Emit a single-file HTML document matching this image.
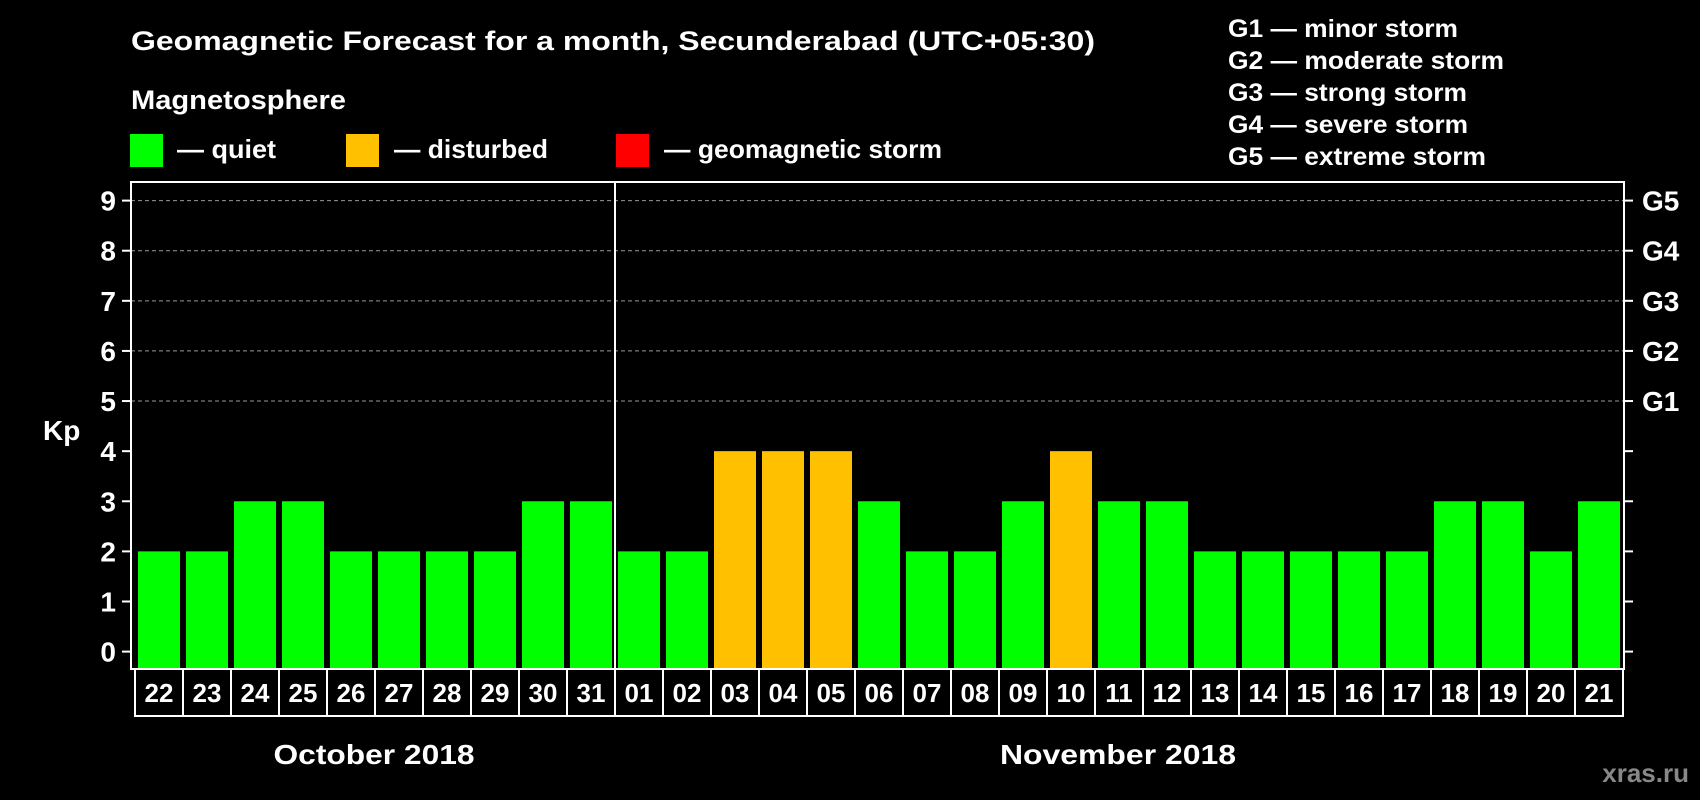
<!DOCTYPE html>
<html><head><meta charset="utf-8"><style>
html,body{margin:0;padding:0;background:#000;}
svg{display:block;font-family:"Liberation Sans",Arial,sans-serif;font-weight:bold;}
</style></head><body>
<svg id="chart" width="1700" height="800" viewBox="0 0 1700 800">
<rect x="0" y="0" width="1700" height="800" fill="#000"/>
<text x="131" y="50" fill="#fff" font-size="27" textLength="964" lengthAdjust="spacingAndGlyphs">Geomagnetic Forecast for a month, Secunderabad (UTC+05:30)</text>
<text x="131" y="109" fill="#fff" font-size="27" textLength="215" lengthAdjust="spacingAndGlyphs">Magnetosphere</text>
<g>
<rect x="130" y="134" width="33" height="33" fill="#00ff00"/>
<text x="177" y="158" fill="#fff" font-size="26" textLength="99" lengthAdjust="spacingAndGlyphs">— quiet</text>
<rect x="346" y="134" width="33" height="33" fill="#ffc000"/>
<text x="394" y="158" fill="#fff" font-size="26" textLength="154" lengthAdjust="spacingAndGlyphs">— disturbed</text>
<rect x="616" y="134" width="33" height="33" fill="#ff0000"/>
<text x="664" y="158" fill="#fff" font-size="26" textLength="278" lengthAdjust="spacingAndGlyphs">— geomagnetic storm</text>
</g>
<g fill="#fff" font-size="25">
<text x="1228" y="37" textLength="230" lengthAdjust="spacingAndGlyphs">G1 — minor storm</text>
<text x="1228" y="69" textLength="276" lengthAdjust="spacingAndGlyphs">G2 — moderate storm</text>
<text x="1228" y="101" textLength="239" lengthAdjust="spacingAndGlyphs">G3 — strong storm</text>
<text x="1228" y="133" textLength="240" lengthAdjust="spacingAndGlyphs">G4 — severe storm</text>
<text x="1228" y="165" textLength="258" lengthAdjust="spacingAndGlyphs">G5 — extreme storm</text>
</g>
<text x="43" y="440" fill="#fff" font-size="28">Kp</text>
<g id="grid"></g>
<g id="bars"></g>
<g id="axes"></g>
<g id="xlabels"></g>
<text x="374" y="764" fill="#fff" font-size="28" text-anchor="middle" textLength="201" lengthAdjust="spacingAndGlyphs">October 2018</text>
<text x="1118" y="764" fill="#fff" font-size="28" text-anchor="middle" textLength="236" lengthAdjust="spacingAndGlyphs">November 2018</text>
<text x="1689" y="782" fill="#888" font-size="26" text-anchor="end">xras.ru</text>
</svg>
<script>
const days = ["22","23","24","25","26","27","28","29","30","31","01","02","03","04","05","06","07","08","09","10","11","12","13","14","15","16","17","18","19","20","21"];
const kpValues = [2,2,3,3,2,2,2,2,3,3,2,2,4,4,4,3,2,2,3,4,3,3,2,2,2,2,2,3,3,2,3];
const yTicks = [0,1,2,3,4,5,6,7,8,9];
const gLabels = ["G1","G2","G3","G4","G5"];
const gLevels = [5,6,7,8,9];
const monthSplitIndex = 10;

const NS = "http://www.w3.org/2000/svg";
const plotL = 131, plotR = 1624, plotT = 182, plotB = 669;
const y0 = 651.6, unit = (651.6 - 200.6) / 9;
const cellL = 135, cellW = 48, barW = 42;
function yScale(v){ return y0 - v * unit; }
function xCell(i){ return cellL + i * cellW; }
function mk(tag, attrs, parent){
  const e = document.createElementNS(NS, tag);
  for (const k in attrs) e.setAttribute(k, attrs[k]);
  parent.appendChild(e);
  return e;
}
const grid = document.getElementById("grid");
const bars = document.getElementById("bars");
const axes = document.getElementById("axes");
const xl = document.getElementById("xlabels");

gLevels.forEach((lv, i) => {
  const l = mk("line", {x1: plotL, x2: plotR, y1: yScale(lv), y2: yScale(lv), stroke: "#999", "stroke-width": 1, "stroke-dasharray": "4,3"}, grid);
  
  
  const t = mk("text", {x: 1642, y: yScale(lv) + 10, fill: "#fff", "font-size": 28}, axes);
  t.textContent = gLabels[i];
  
  
});

kpValues.forEach((v, i) => {
  const color = v >= 5 ? "#ff0000" : (v >= 4 ? "#ffc000" : "#00ff00");
  const r = mk("rect", {x: xCell(i) + 3, y: yScale(v), width: barW, height: (plotB - 1) - yScale(v), fill: color}, bars);
  
  
});

const frame = mk("rect", {x: plotL, y: plotT, width: plotR - plotL, height: plotB - plotT, fill: "none", stroke: "#fff", "stroke-width": 2}, axes);


const div = mk("line", {x1: xCell(monthSplitIndex), x2: xCell(monthSplitIndex), y1: plotT, y2: plotB, stroke: "#fff", "stroke-width": 2}, axes);



yTicks.forEach(v => {
  const y = yScale(v);
  const a = mk("line", {x1: plotL - 9, x2: plotL, y1: y, y2: y, stroke: "#fff", "stroke-width": 2}, axes);
  
  
  const b = mk("line", {x1: plotR, x2: plotR + 9, y1: y, y2: y, stroke: "#fff", "stroke-width": 2}, axes);
  
  
  const t = mk("text", {x: 116, y: y + 10, fill: "#fff", "font-size": 28, "text-anchor": "end"}, axes);
  t.textContent = v;
  
  
});

const box = mk("rect", {x: cellL, y: plotB, width: cellW * days.length, height: 47, fill: "none", stroke: "#fff", "stroke-width": 2}, xl);


days.forEach((d, i) => {
  if (i > 0) {
    const s = mk("line", {x1: xCell(i), x2: xCell(i), y1: plotB, y2: plotB + 47, stroke: "#fff", "stroke-width": 2}, xl);
    
    
  }
  const t = mk("text", {x: xCell(i) + cellW / 2, y: plotB + 33, fill: "#fff", "font-size": 26, "text-anchor": "middle"}, xl);
  t.textContent = d;
  
  
});
</script>
</body></html>
